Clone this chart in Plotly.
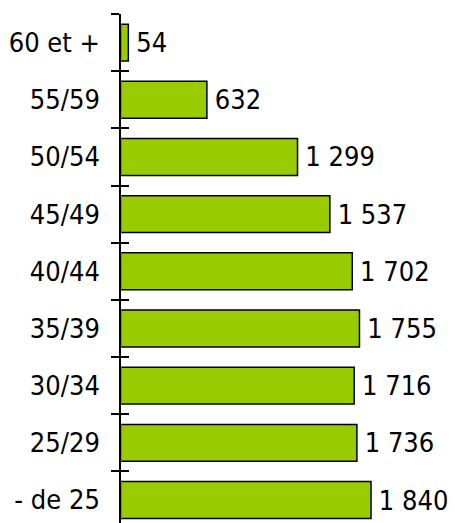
import plotly.graph_objects as go

categories = ["- de 25", "25/29", "30/34", "35/39", "40/44", "45/49", "50/54", "55/59", "60 et +"]
values = [1840, 1736, 1716, 1755, 1702, 1537, 1299, 632, 54]

FONT = "DejaVu Sans Condensed, DejaVu Sans, sans-serif"
FS = 27

fig = go.Figure()
fig.add_trace(go.Bar(
    x=values, y=categories, orientation="h",
    marker=dict(color="#99CC00", line=dict(color="#000000", width=1.5)),
    texttemplate="\u2009%{x:,}", textposition="outside", cliponaxis=False,
    textfont=dict(family=FONT, size=FS, color="#000000"),
    hoverinfo="skip",
))
# invisible trace on overlay axis for inside tick marks
fig.add_trace(go.Bar(x=[0]*len(categories), y=categories, orientation="h",
                     yaxis="y2", marker=dict(color="rgba(0,0,0,0)"), showlegend=False, hoverinfo="skip"))

yr = [-0.402, 8.5]
fig.update_layout(
    width=447, height=515,
    margin=dict(l=113, r=0, t=6, b=0, autoexpand=False),
    paper_bgcolor="white", plot_bgcolor="white",
    separators=", ",
    bargap=0.355,
    showlegend=False,
    font=dict(family=FONT, size=FS, color="#000000"),
    xaxis=dict(range=[0, 2458], visible=False, showgrid=False, zeroline=False, automargin=False),
    yaxis=dict(type="category", categoryorder="array", categoryarray=categories,
               range=yr, showline=True, linecolor="#000000", linewidth=1.5,
               ticks="outside", ticklen=8, tickcolor="#000000", tickwidth=1.5,
               tickson="boundaries", showgrid=False, zeroline=False, automargin=False,
               ticklabelstandoff=14,
               tickfont=dict(family=FONT, size=FS, color="#000000")),
    yaxis2=dict(type="category", categoryorder="array", categoryarray=categories,
                range=yr, overlaying="y", side="left", anchor="x",
                showline=False, ticks="inside", ticklen=8, tickcolor="#000000", tickwidth=1.5,
                tickson="boundaries", showticklabels=False, showgrid=False, zeroline=False,
                automargin=False),
)

fig.write_html("out.html")
